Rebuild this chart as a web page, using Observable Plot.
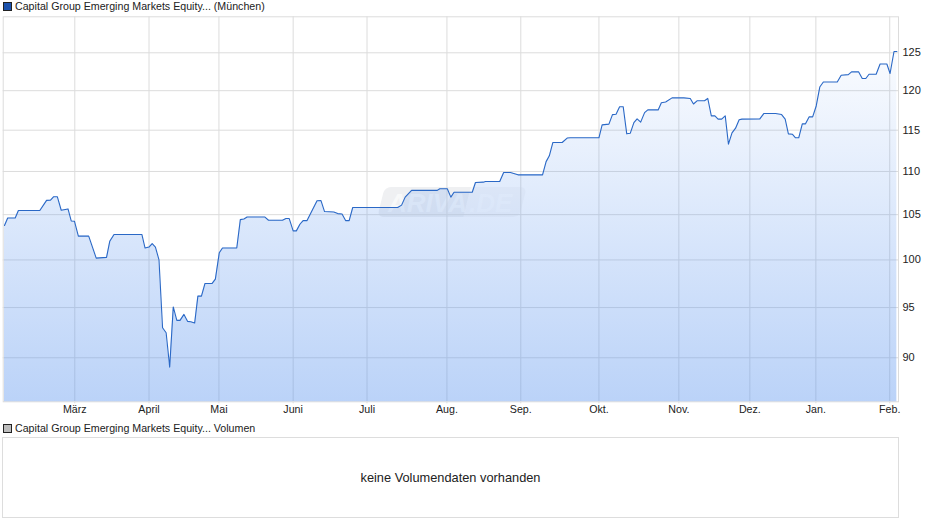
<!DOCTYPE html>
<html><head><meta charset="utf-8">
<script src="https://cdn.jsdelivr.net/npm/d3@7"></script>
<script src="https://cdn.jsdelivr.net/npm/@observablehq/plot@0.6"></script>
<style>
html,body{margin:0;padding:0;background:#fff;font-family:"Liberation Sans",Arial,sans-serif;color:#222}
#page{position:relative;width:940px;height:526px;overflow:hidden}
.leg{position:absolute;left:3px;font-size:10.67px;line-height:12px;white-space:nowrap}
.leg i{position:absolute;left:0;top:2px;width:6.5px;height:6.5px;border:1px solid #222}
.leg span{margin-left:12px}
#chart{position:absolute;left:0;top:16px}
#vol{position:absolute;left:2px;top:437px;width:895px;height:79px;border:1px solid #ddd;text-align:center;font-size:12.8px;line-height:79px}
.wm{position:absolute;top:187px;height:30px;transform:skewX(-14deg);overflow:hidden}
.wmt{position:absolute;top:188px;height:30px;line-height:30px;font:italic bold 26px "Liberation Sans",Arial,sans-serif;color:#fff;white-space:nowrap}
</style></head><body>
<div id="page">
<div class="wm" style="left:381px;width:86px;background:rgba(110,120,140,.11);border-radius:6px 0 0 6px"></div>
<div class="wm" style="left:467px;width:56px;background:rgba(110,120,140,.05);border-radius:0 6px 6px 0"></div>
<div class="wmt" id="wmA" style="left:388px;opacity:.6"></div>
<div class="wmt" id="wmB" style="left:469px;opacity:.6"></div>
<div class="leg" style="top:0"><i style="background:#1c52ad"></i><span id="l1"></span></div>
<div id="chart"></div>
<div class="leg" style="top:422px"><i style="background:#bdbdbd"></i><span id="l2"></span></div>
<div id="vol"></div>
</div>
<script>
const seriesName = "Capital Group Emerging Markets Equity... (München)";
const volumeName = "Capital Group Emerging Markets Equity... Volumen";
const noVolume = "keine Volumendaten vorhanden";
const watermark = ["ARIVA",".DE"];
const monthLabels = ["März","April","Mai","Juni","Juli","Aug.","Sep.","Okt.","Nov.","Dez.","Jan.","Feb."];
const monthSessions = [19.7,40.5,60.1,80.9,101.6,124,144.7,166.6,189,208.9,227.4,248.1];
const priceTicks = [90,95,100,105,110,115,120,125];
const sessions = [0,0.9,3,3.9,9.9,11.8,12.9,13.8,14.8,15.9,17.8,18.7,19.6,20.7,23.6,25.7,28.6,29.5,30.7,38.5,39.4,40.5,41.4,42.3,43.3,44.3,45.3,46.3,47.3,48.3,49.2,50.3,51.3,52.2,53.3,54.2,55.2,56.2,58.2,59.1,60.2,61.1,65.1,66.1,67.1,68,73,74,77.9,78.9,79.8,80.9,81.8,82.8,83.7,84.8,87.6,88.7,89.7,92.3,93.4,94.6,95.6,96.6,97.6,110.2,111.3,112.3,114.1,121.3,122,124.1,125.1,126,131.1,132,134.2,134.8,138.8,139.9,141.8,143.9,150.8,151.8,152.7,153.7,156.3,157.7,158.6,166.6,167.5,169.4,170.4,171.4,172.4,173.4,174.4,175.4,176.4,177.3,178.3,179.4,180.3,183.2,184.1,185.3,187.1,190.4,192.2,193.1,194.1,196.2,197.1,198.1,199.1,200,201,202,202.9,203.9,204.9,205.9,206.7,211.7,212.8,216.1,217.8,218.8,219.7,220.8,221.7,222.6,223.6,224.5,225.5,226.5,227.5,228.5,229.5,233.4,234.5,236.5,237.4,239.4,240.4,241.4,242.3,244.3,245.4,247.3,248.2,249.3,250.1];
const prices = [103.78,104.62,104.62,105.47,105.47,106.63,106.66,107.05,107.05,105.5,105.65,104.29,104.26,102.6,102.6,100.2,100.28,102.03,102.78,102.78,101.29,101.4,101.78,101.4,100,92.96,92.46,89.1,95.06,93.7,93.7,94.3,93.6,93.56,93.43,96.18,96.18,97.5,97.5,97.95,100.78,101.29,101.29,104.44,104.51,104.73,104.73,104.37,104.37,104.56,104.56,103.18,103.18,103.92,104.33,104.33,106.58,106.6,105.35,105.3,105.12,105.07,104.33,104.33,105.81,105.81,106.08,107,107.78,107.78,107.97,107.97,107,107.56,107.56,108.7,108.74,108.81,108.81,109.88,109.88,109.6,109.6,111.17,111.87,113.49,113.49,114.03,114.06,114.06,115.66,115.75,116.95,117,117.95,117.95,114.55,114.63,115.95,116.41,116,117.2,117.54,117.54,118.45,118.54,119.07,119.07,119,118.29,118.7,118.7,119,116.79,116.79,116.38,116.38,116.79,113.29,114.66,115.25,116.29,116.38,116.41,117.08,117.08,116.95,116.38,114.55,114.5,114.06,114.06,115.79,115.79,116.66,116.66,118.04,120.47,121.13,121.13,122.01,122.09,122.45,122.45,121.58,121.58,122.14,122.14,123.5,123.5,122.24,125.17,125.17];
const rows = sessions.map((s,i)=>({s,p:prices[i]}));
const yLow = 85.83, yHigh = 129.94;

document.getElementById("l1").textContent = seriesName;
document.getElementById("l2").textContent = volumeName;
document.getElementById("vol").textContent = noVolume;
document.getElementById("wmA").textContent = watermark[0];
document.getElementById("wmB").textContent = watermark[1];

const gradient = () => {
  const g = d3.create("svg:g");
  const lg = g.append("defs").append("linearGradient").attr("id","areaFill").attr("x1",0).attr("y1",0).attr("x2",0).attr("y2",1);
  lg.append("stop").attr("offset","0%").attr("stop-color","#5490ee").attr("stop-opacity",0.03);
  lg.append("stop").attr("offset","100%").attr("stop-color","#5490ee").attr("stop-opacity",0.4);
  return g.node();
};

const chart = Plot.plot({
  width: 940, height: 404,
  marginTop: 0.3, marginBottom: 18.7, marginLeft: 2.7, marginRight: 42,
  style: {fontFamily:'"Liberation Sans",Arial,sans-serif', fontSize:"11px", color:"#222", background:"transparent", overflow:"visible"},
  x: {type:"linear", domain:[-0.364,250.56], label:null},
  y: {type:"log", domain:[yLow,yHigh], label:null},
  marks: [
    gradient,
    Plot.gridX(monthSessions,{stroke:"#dcdcdc",strokeOpacity:1}),
    Plot.gridY(priceTicks,{stroke:"#dcdcdc",strokeOpacity:1}),
    Plot.frame({stroke:"#dcdcdc"}),
    Plot.areaY(rows,{x:"s",y1:()=>yLow,y2:"p",fill:"url(#areaFill)"}),
    Plot.line(rows,{x:"s",y:"p",stroke:"#2a68c6",strokeWidth:1.1,curve:"linear"}),
    Plot.axisX({ticks:monthSessions,tickFormat:d=>monthLabels[monthSessions.indexOf(d)],tickSize:2,stroke:"#ddd",fill:"#222",tickPadding:2,label:null,fontSize:10.67}),
    Plot.axisY({anchor:"right",ticks:priceTicks,tickFormat:d=>String(d),tickSize:0,tickPadding:4,label:null,fill:"#222"})
  ]
});
document.getElementById("chart").appendChild(chart);
</script>
</body></html>
